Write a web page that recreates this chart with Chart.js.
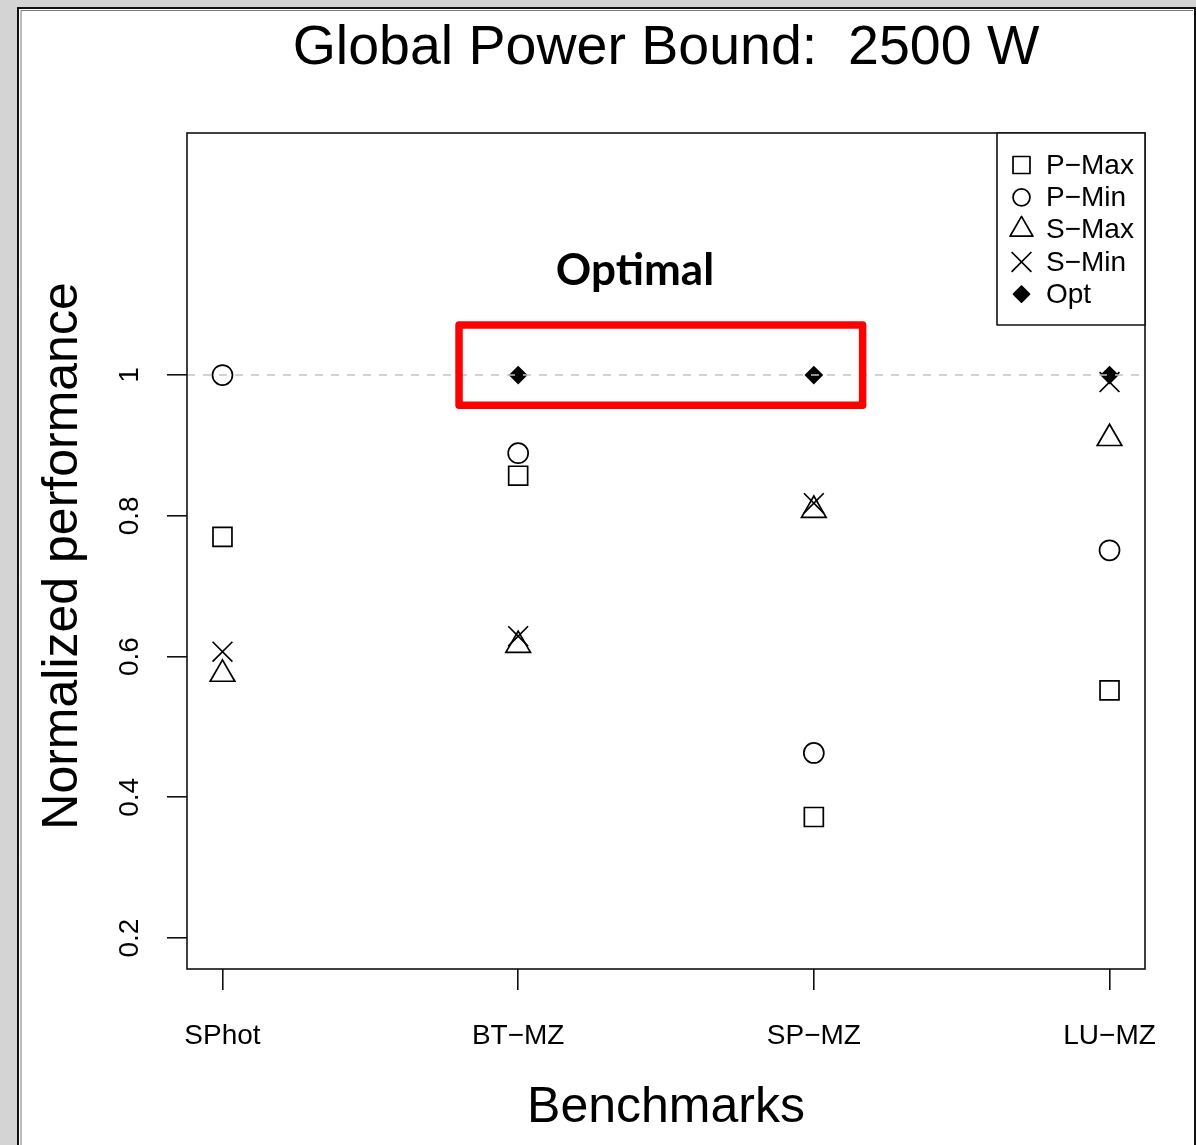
<!DOCTYPE html>
<html>
<head>
<meta charset="utf-8">
<script src="https://cdn.jsdelivr.net/npm/chart.js@4.4.1/dist/chart.umd.min.js"></script>
<style>
  body { margin: 0; background: #d4d4d4; }
  canvas { display: block; }
</style>
</head>
<body>
<canvas id="chart" width="1196" height="1145"></canvas>
<script>
// values
const categories = ["SPhot", "BT\u2212MZ", "SP\u2212MZ", "LU\u2212MZ"];
const pMax = [0.770, 0.857, 0.372, 0.552];
const pMin = [1.000, 0.889, 0.463, 0.751];
const sMax = [0.575, 0.616, 0.808, 0.910];
const sMin = [0.607, 0.629, 0.818, 0.990];
const opt = [null, 1.0, 1.0, 1.0];
const yTicks = [0.2, 0.4, 0.6, 0.8, 1];
const refLine = 1;

const FONT = "'Liberation Sans', Arial, Helvetica, sans-serif";

function toPoints(arr) {
  let res = [];
  arr.forEach((v, i) => {
    if (v != null) res.push({ x: i, y: v });
  });
  return res;
}

const series = [
  { label: "P\u2212Max", data: pMax, style: "rect", r: 13.4, lr: 12, fill: false },
  { label: "P\u2212Min", data: pMin, style: "circle", r: 10, lr: 8.5, fill: false },
  { label: "S\u2212Max", data: sMax, style: "triangle", r: 14.2, lr: 13.2, fill: false },
  { label: "S\u2212Min", data: sMin, style: "crossRot", r: 14, lr: 14, fill: false },
  { label: "Opt", data: opt, style: "rectRot", r: 8.2, lr: 8, fill: true },
];

function drawMark(ctx, s, x, y, r) {
  ctx.save();
  ctx.strokeStyle = "#000";
  ctx.fillStyle = s.fill ? "#000" : "rgba(0,0,0,0)";
  ctx.lineWidth = 1.7;
  if (Chart.helpers && Chart.helpers.drawPoint) {
    Chart.helpers.drawPoint(ctx, { pointStyle: s.style, radius: r, rotation: 0, borderWidth: 1.7 }, x, y);
  } else {
    ctx.beginPath();
    ctx.arc(x, y, r, 0, Math.PI * 2);
    if (s.fill) ctx.fill();
    ctx.stroke();
  }
  ctx.restore();
}

const decor = {
  id: "decor",
  beforeDraw(chart) {
    const ctx = chart.ctx;
    ctx.save();
    ctx.fillStyle = "#d4d4d4";
    ctx.fillRect(0, 0, chart.width, chart.height);
    ctx.fillStyle = "#fff";
    ctx.fillRect(18, 7, chart.width - 18, chart.height - 7);
    ctx.strokeStyle = "#111";
    ctx.lineWidth = 2;
    ctx.beginPath();
    ctx.moveTo(18, chart.height);
    ctx.lineTo(18, 8);
    ctx.lineTo(1195, 8);
    ctx.lineTo(1195, chart.height);
    ctx.stroke();
    ctx.strokeStyle = "#777";
    ctx.lineWidth = 1;
    ctx.beginPath();
    ctx.moveTo(21, chart.height);
    ctx.lineTo(21, 10.5);
    ctx.lineTo(1193, 10.5);
    ctx.stroke();
    ctx.restore();
  },
  afterDatasetsDraw(chart) {
    const ctx = chart.ctx;
    const a = chart.chartArea;
    const xs = chart.scales.x;
    const ys = chart.scales.y;
    ctx.save();

    // dashed reference line at 1
    ctx.strokeStyle = "#c4c4c4";
    ctx.lineWidth = 1.5;
    ctx.setLineDash([8, 8]);
    ctx.beginPath();
    const yr = ys.getPixelForValue(refLine);
    ctx.moveTo(a.left, yr);
    ctx.lineTo(a.right, yr);
    ctx.stroke();
    ctx.setLineDash([]);

    // plot box
    ctx.strokeStyle = "#111";
    ctx.lineWidth = 1.6;
    ctx.strokeRect(a.left, a.top, a.right - a.left, a.bottom - a.top);

    // red highlight box
    const x0 = xs.getPixelForValue(0.800), x1 = xs.getPixelForValue(2.165);
    const y0 = ys.getPixelForValue(1.071), y1 = ys.getPixelForValue(0.957);
    ctx.strokeStyle = "#ff0000";
    ctx.lineWidth = 7.5;
    ctx.lineJoin = "round";
    ctx.strokeRect(x0, y0, x1 - x0, y1 - y0);

    ctx.fillStyle = "#000";
    ctx.font = "bold 44px Lato, 'Open Sans', sans-serif";
    ctx.textAlign = "center";
    ctx.textBaseline = "alphabetic";
    ctx.fillText("Optimal", xs.getPixelForValue(1.395), ys.getPixelForValue(1.128));

    // legend
    const lw = 148, lh = 192;
    ctx.fillStyle = "#fff";
    ctx.fillRect(a.right - lw, a.top, lw, lh);
    ctx.strokeStyle = "#111";
    ctx.lineWidth = 1.6;
    ctx.strokeRect(a.right - lw, a.top, lw, lh);
    ctx.font = "28px " + FONT;
    ctx.textAlign = "left";
    ctx.textBaseline = "middle";
    series.forEach((s, i) => {
      const cy = a.top + 32 + i * 32.3;
      drawMark(ctx, s, a.right - lw + 24.5, cy, s.lr);
      ctx.fillStyle = "#000";
      ctx.fillText(s.label, a.right - lw + 49, cy + 1);
    });
    ctx.restore();
  },
  afterDraw(chart) {
    const ctx = chart.ctx;
    const a = chart.chartArea;
    const xs = chart.scales.x;
    const ys = chart.scales.y;
    const cx = (a.left + a.right) / 2;
    const cy = (a.top + a.bottom) / 2;
    ctx.save();
    ctx.fillStyle = "#000";
    ctx.textBaseline = "alphabetic";
    ctx.textAlign = "center";

    ctx.font = "55.5px " + FONT;
    ctx.fillText("Global Power Bound:  2500 W", cx, 64);

    ctx.font = "50px " + FONT;
    ctx.fillText("Benchmarks", cx, 1122);

    ctx.save();
    ctx.translate(77, cy + 5);
    ctx.rotate(-Math.PI / 2);
    ctx.fillText("Normalized performance", 0, 0);
    ctx.restore();

    ctx.font = "28px " + FONT;
    categories.forEach((c, i) => {
      ctx.fillText(c, xs.getPixelForValue(i), 1044);
    });
    yTicks.forEach((v) => {
      ctx.save();
      ctx.translate(138, ys.getPixelForValue(v));
      ctx.rotate(-Math.PI / 2);
      ctx.fillText(String(v), 0, 0);
      ctx.restore();
    });
    ctx.restore();
  },
};

const datasets = series.map((s, i) => ({
  label: s.label,
  data: toPoints(s.data),
  pointStyle: s.style,
  pointRadius: s.r,
  pointHoverRadius: s.r,
  pointBorderWidth: 1.7,
  pointBorderColor: "#000",
  pointBackgroundColor: s.fill ? "#000" : "rgba(0,0,0,0)",
  showLine: false,
  order: series.length - 1 - i,
}));

const config = {
  type: "scatter",
  data: { datasets: datasets },
  options: {
    responsive: false,
    animation: false,
    events: [],
    layout: { padding: { left: 0, right: 51, top: 133, bottom: 0 } },
    plugins: {
      legend: { display: false },
      title: { display: false },
      tooltip: { enabled: false },
    },
    scales: {
      x: {
        type: "linear",
        min: -0.12,
        max: 3.12,
        afterBuildTicks: (s) => {
          s.ticks = categories.map((c, i) => ({ value: i }));
        },
        afterFit: (s) => {
          s.height = 176;
        },
        ticks: { display: false },
        border: { display: false },
        grid: {
          drawOnChartArea: false,
          drawTicks: true,
          tickLength: 21,
          color: "#111",
          lineWidth: 1.6,
        },
      },
      y: {
        type: "linear",
        min: 0.156,
        max: 1.344,
        afterBuildTicks: (s) => {
          s.ticks = yTicks.map((v) => ({ value: v }));
        },
        afterFit: (s) => {
          s.width = 187;
        },
        ticks: { display: false },
        border: { display: false },
        grid: {
          drawOnChartArea: false,
          drawTicks: true,
          tickLength: 20,
          color: "#111",
          lineWidth: 1.6,
        },
      },
    },
  },
  plugins: [decor],
};

new Chart(document.getElementById("chart"), config);
</script>
</body>
</html>
